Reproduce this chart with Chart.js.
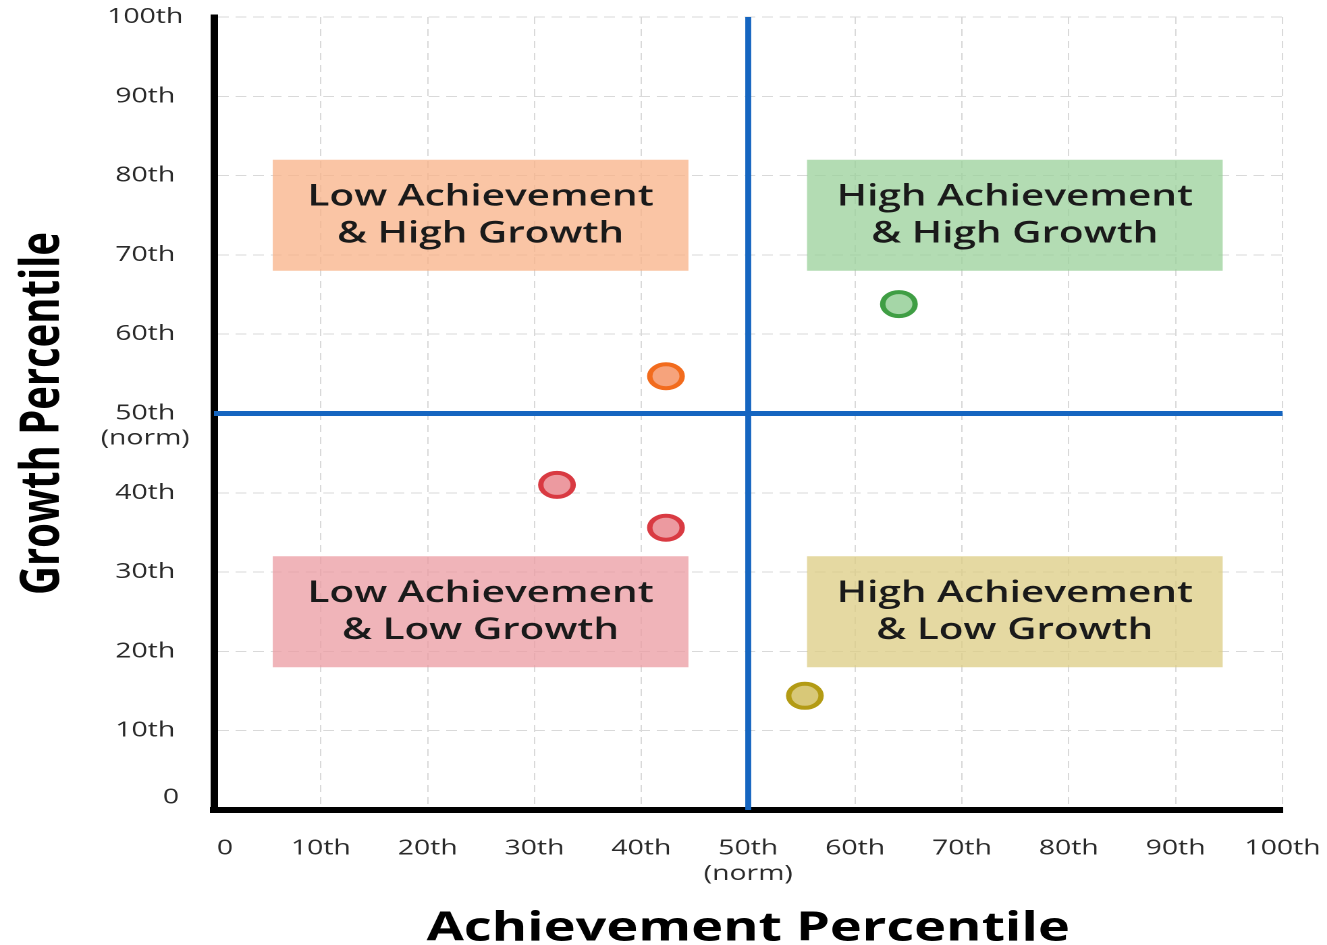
<!DOCTYPE html>
<html>
<head>
<meta charset="utf-8">
<title>Growth vs Achievement</title>
<script src="https://cdn.jsdelivr.net/npm/chart.js@4.4.1/dist/chart.umd.min.js"></script>
<style>
    html, body { margin: 0; padding: 0; background: #fff; overflow: hidden; }
    /* the reference is stretched sideways, so the whole chart is too */
    #wrap { width: 983px; height: 945px; transform: scaleX(1.35); transform-origin: 0 0; }
</style>
</head>
<body>
<div id="wrap"><canvas id="chartCanvas"></canvas></div>
<script>
// the "0" labels sit a little off their ticks in the original
const xTickLabels = ['   0', '10th', '20th', '30th', '40th', ['50th', '(norm)'], '60th', '70th', '80th', '90th', '100th'];
const yTickLabels = [['       0', ''], '10th', '20th', '30th', '40th', ['', '50th', '(norm)'], '60th', '70th', '80th', '90th', '100th'];

// students
const achievement = [64.1, 42.3, 32.1, 42.3, 55.3];
const growth = [63.8, 54.7, 41.0, 35.6, 14.4];
const pointFill = ['#a5d6a7', '#f6a37c', '#ec9aa0', '#ec9aa0', '#d8c878'];
const pointBorder = ['#3f9e44', '#f26b1d', '#d93a42', '#d93a42', '#b39b14'];

// quadrant boxes
const quadrantLabels = [
    ['Low Achievement', '& High Growth'],
    ['High Achievement', '& High Growth'],
    ['Low Achievement', '& Low Growth'],
    ['High Achievement', '& Low Growth']
];
const quadrantX = [[5.5, 44.4], [55.5, 94.4], [5.5, 44.4], [55.5, 94.4]];
const quadrantY = [[68, 82], [68, 82], [18, 32], [18, 32]];
const quadrantColors = ['rgba(248,178,135,0.75)', 'rgba(154,208,154,0.75)', 'rgba(235,155,162,0.75)', 'rgba(220,204,131,0.75)'];

const normX = 50;
const normY = 50;

Chart.defaults.font.family = '"Open Sans", sans-serif';

const quadrantPlugin = {
    id: 'quadrants',
    beforeDatasetsDraw(chart) {
        const { ctx, chartArea, scales: { x, y } } = chart;
        ctx.save();
        quadrantX.forEach((xr, i) => {
            const left = x.getPixelForValue(xr[0]);
            const right = x.getPixelForValue(xr[1]);
            const top = y.getPixelForValue(quadrantY[i][1]);
            const bottom = y.getPixelForValue(quadrantY[i][0]);
            ctx.fillStyle = quadrantColors[i];
            ctx.fillRect(left, top, right - left, bottom - top);

            ctx.fillStyle = '#1a1a1a';
            ctx.font = '600 30px "Open Sans"';
            ctx.textAlign = 'center';
            ctx.textBaseline = 'middle';
            const cx = (left + right) / 2;
            const cy = (top + bottom) / 2;
            ctx.fillText(quadrantLabels[i][0], cx, cy - 18.5);
            ctx.fillText(quadrantLabels[i][1], cx, cy + 18.5);
        });

        ctx.strokeStyle = '#1565c0';
        const nx = x.getPixelForValue(normX);
        ctx.lineWidth = 4.4;
        ctx.beginPath();
        ctx.moveTo(nx, chartArea.top);
        ctx.lineTo(nx, chartArea.bottom);
        ctx.stroke();

        const ny = y.getPixelForValue(normY);
        ctx.lineWidth = 5;
        ctx.beginPath();
        ctx.moveTo(chartArea.left, ny);
        ctx.lineTo(chartArea.right, ny);
        ctx.stroke();
        ctx.restore();
    }
};

const ctx = document.getElementById('chartCanvas').getContext('2d');

new Chart(ctx, {
    type: 'scatter',
    data: {
        datasets: [{
            data: achievement.map((a, i) => ({ x: a, y: growth[i] })),
            backgroundColor: pointFill,
            borderColor: pointBorder,
            borderWidth: 4,
            pointRadius: 12,
            pointHoverRadius: 12
        }]
    },
    options: {
        responsive: true,
        maintainAspectRatio: false,
        animation: false,
        devicePixelRatio: 2,
        layout: { padding: { top: 17, right: 33, bottom: 0, left: 0 } },
        plugins: {
            legend: { display: false },
            tooltip: { enabled: false }
        },
        scales: {
            x: {
                type: 'linear',
                min: 0,
                max: 100,
                afterFit: scale => {
                    scale.height = 135;
                    scale.paddingLeft = 0;
                    scale.paddingRight = 0;
                },
                border: { display: true, color: '#000', width: 6, dash: [7, 5] },
                grid: { color: '#d9d9d9', lineWidth: 1, drawTicks: false },
                ticks: {
                    stepSize: 10,
                    autoSkip: false,
                    maxRotation: 0,
                    padding: 26,
                    color: '#2a2a2a',
                    font: { size: 21 },
                    callback: v => xTickLabels[Math.round(v / 10)]
                },
                title: {
                    display: true,
                    text: 'Achievement Percentile',
                    color: '#000',
                    font: { size: 40, weight: 'bold', lineHeight: 1 },
                    padding: { top: 0, bottom: -4 }
                }
            },
            y: {
                type: 'linear',
                min: 0,
                max: 100,
                afterFit: scale => {
                    scale.width = 158.5;
                    scale.paddingTop = 0;
                    scale.paddingBottom = 0;
                },
                border: { display: true, color: '#000', width: 5.5, dash: [8, 5] },
                grid: { color: '#d9d9d9', lineWidth: 1, drawTicks: false },
                ticks: {
                    stepSize: 10,
                    autoSkip: false,
                    padding: 18,
                    crossAlign: 'center',
                    color: '#2a2a2a',
                    font: { size: 21 },
                    callback: v => yTickLabels[Math.round(v / 10)]
                },
                title: {
                    display: true,
                    text: 'Growth Percentile',
                    color: '#000',
                    font: { size: 40, weight: 'bold' },
                    padding: { top: 8, bottom: 0 }
                }
            }
        }
    },
    plugins: [quadrantPlugin]
});
</script>
</body>
</html>
